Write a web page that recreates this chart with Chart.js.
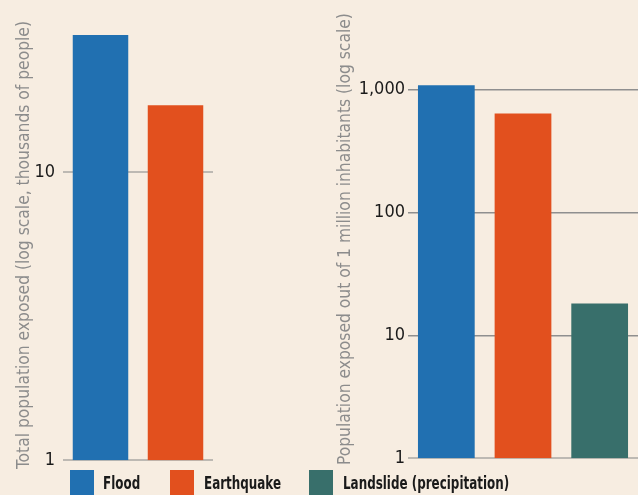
<!DOCTYPE html>
<html>
<head>
<meta charset="utf-8">
<script src="https://cdn.jsdelivr.net/npm/chart.js@4"></script>
<style>
  body { margin: 0; background: #f7ede1; width: 638px; height: 495px; overflow: hidden; position: relative; }
  .box { position: absolute; }
  #legend { position: absolute; left: 0; top: 470px; font-family: "DejaVu Sans Condensed", sans-serif; font-weight: bold; font-size: 17px; color: #1a1a1a; }
  #legend span.sw { position: absolute; top: 0; width: 24px; height: 25px; }
  #legend span.lb { position: absolute; top: 3px; white-space: nowrap; transform: scaleX(0.78); transform-origin: left center; }
</style>
</head>
<body>
<div class="box" style="left:0;top:11px;width:213px;height:468px"><canvas id="left"></canvas></div>
<div class="box" style="left:318px;top:0;width:320px;height:472px"><canvas id="right"></canvas></div>
<div id="legend"></div>
<script>
const hazards = ["Flood", "Earthquake", "Landslide (precipitation)"];
const colors = ["#2170b1", "#e2501e", "#386f6b"];

// total population exposed, thousands (left panel)
const totalExposed = [30, 17.1];
// exposed out of 1 million inhabitants (right panel)
const perMillion = [1085, 640, 18.2];

const leftTicks = [1, 10];
const rightTicks = [1, 10, 100, 1000];

const font = "'DejaVu Sans Condensed', sans-serif";

function makeChart(id, values, ticks, max, title, width, gridColor, gridWidth, padTop, labelPad, titlePad) {
  const n = values.length;
  new Chart(document.getElementById(id), {
    type: "bar",
    data: {
      labels: hazards.slice(0, n),
      datasets: [{
        data: values,
        backgroundColor: colors.slice(0, n),
        barPercentage: 0.74,
        categoryPercentage: 1,
      }],
    },
    options: {
      responsive: true,
      maintainAspectRatio: false,
      animation: false,
      layout: { padding: { top: padTop, bottom: 2, right: 0, left: 0 } },
      plugins: { legend: { display: false }, tooltip: { enabled: false } },
      scales: {
        x: { display: false },
        y: {
          type: "logarithmic",
          min: 1,
          max: max,
          afterBuildTicks: (s) => { s.ticks = ticks.map((v) => ({ value: v })); },
          afterFit: (s) => { s.width = width; },
          border: { display: false },
          grid: {
            color: (c) => (c.tick.value === 1 ? "#bdb9b3" : gridColor),
            lineWidth: (c) => (c.tick.value === 1 ? 2 : gridWidth),
            drawTicks: false,
          },
          ticks: {
            color: "#1a1a1a",
            padding: labelPad,
            font: { family: font, size: 18 },
            callback: (v) => v.toLocaleString("en-US"),
          },
          title: {
            display: true,
            text: title,
            color: "#8c8c8c",
            font: { family: font, size: 17.3 },
            padding: { top: titlePad, bottom: 0 },
          },
        },
      },
    },
  });
}

makeChart("left", totalExposed, leftTicks, 31.3,
  "Total population exposed (log scale, thousands of people)", 63, "#bdb9b3", 2, 0, 8, 14);
makeChart("right", perMillion, rightTicks, 3688,
  "Population exposed out of 1 million inhabitants (log scale)", 90, "#8f8f8f", 1.5, 20, 3, 17);

// legend
const legendPos = [[70, 103], [170, 204], [309, 343]];
const legend = document.getElementById("legend");
hazards.forEach((h, i) => {
  const sw = document.createElement("span");
  sw.className = "sw";
  sw.style.left = legendPos[i][0] + "px";
  sw.style.background = colors[i];
  legend.appendChild(sw);
  const lb = document.createElement("span");
  lb.className = "lb";
  lb.style.left = legendPos[i][1] + "px";
  lb.textContent = h;
  legend.appendChild(lb);
});
</script>
</body>
</html>
